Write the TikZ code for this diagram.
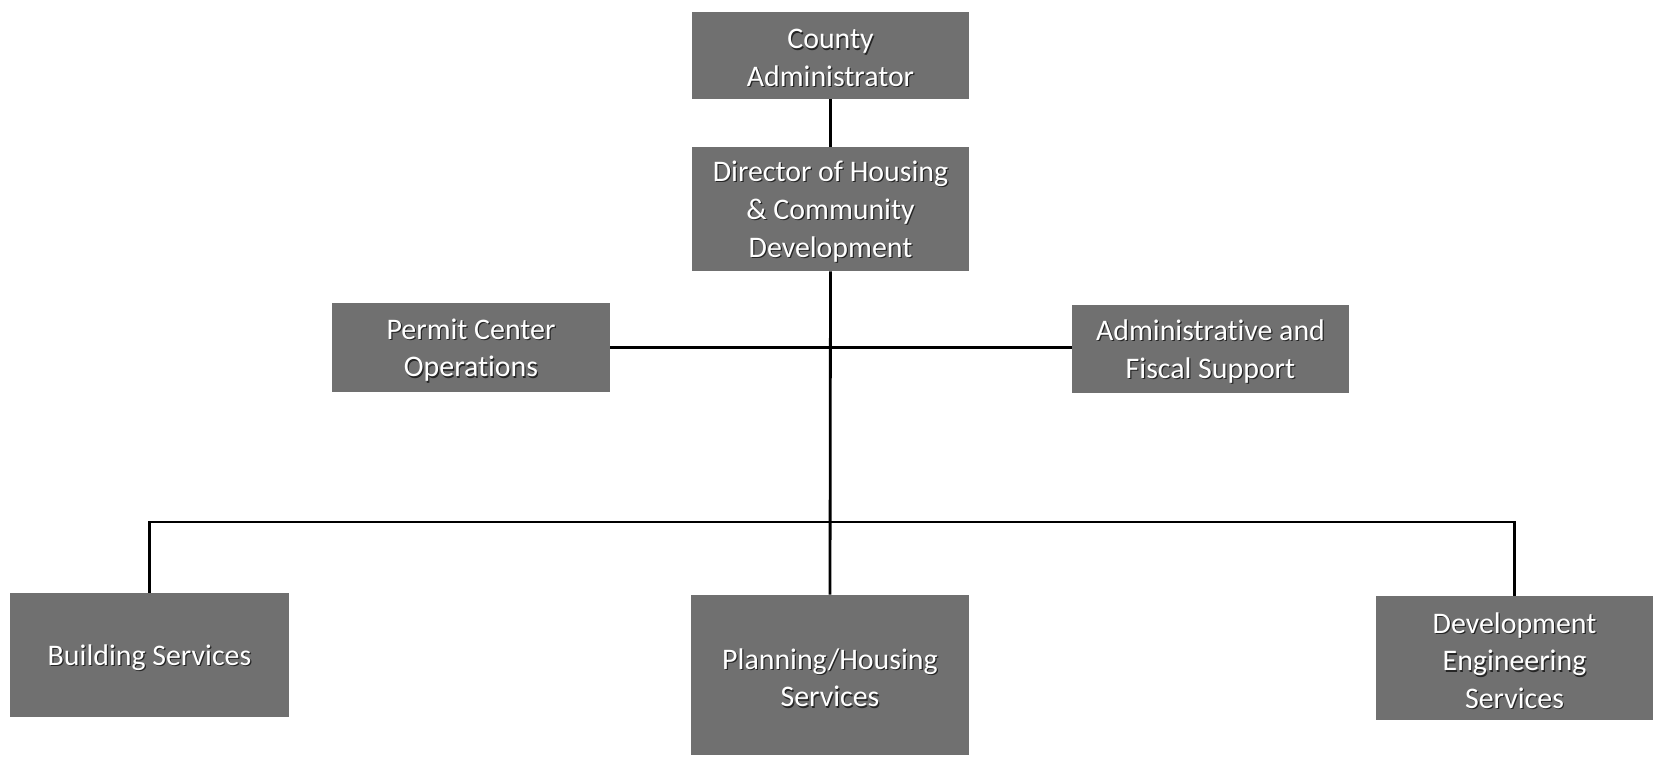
\documentclass[tikz,border=0pt]{standalone}
\usepackage{fontspec}
\setmainfont{Carlito}[Ligatures=NoCommon]
\definecolor{boxgrey}{RGB}{112,112,112}
\tikzset{
    orgunit/.style={fill=boxgrey,inner sep=0pt},
    orgtext/.style={align=center,font=\fontsize{17}{21.5}\selectfont},
    orgline/.style={line width=1.6pt}
}
\newcommand{\orgbox}[5]{
    \node[orgunit,minimum width=#3cm,minimum height=#4cm] (#1) at (#2) {};
    \node[orgtext,text=black!85,xshift=0.7pt,yshift=-2.2pt] at (#1.center) {#5};
    \node[orgtext,text=white,yshift=-1.5pt] at (#1.center) {#5};
}

\begin{document}
\begin{tikzpicture}
        \useasboundingbox (0,0) rectangle (33.16,-15.2);

        \orgbox{county}{16.61,-1.11}{5.54}{1.74}{County\\Administrator}
        \orgbox{director}{16.61,-4.18}{5.54}{2.48}{Director of Housing\\\& Community\\Development}
        \orgbox{permit}{9.42,-6.95}{5.56}{1.78}{Permit Center\\Operations}
        \orgbox{admin}{24.21,-6.98}{5.54}{1.76}{Administrative and\\Fiscal Support}
        \orgbox{building}{2.99,-13.10}{5.58}{2.48}{Building Services}
        \orgbox{planning}{16.60,-13.50}{5.56}{3.20}{Planning/Housing\\Services}
        \orgbox{deveng}{30.29,-13.16}{5.54}{2.48}{Development\\Engineering\\Services}

        \coordinate (bus) at (16.64,-10.44);

        \draw[orgline] (county.south) -- (director.north);
        \draw[orgline] (director.south) -- (planning.north);
        \draw[orgline] (permit.east) -- (permit.east -| admin.west);
        \draw[orgline] (building.north) |- (bus) -| (deveng.north);
    \end{tikzpicture}
\end{document}
